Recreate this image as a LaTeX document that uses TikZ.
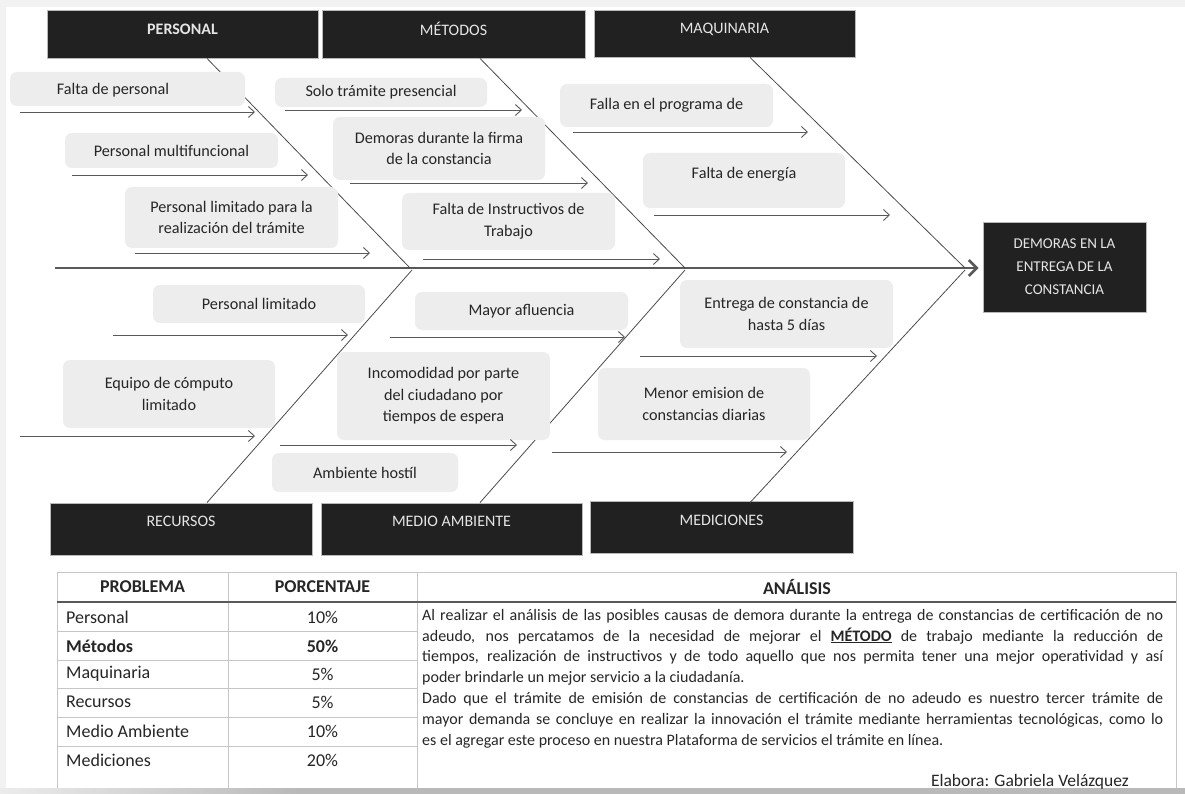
\documentclass[tikz,border=0pt]{standalone}
\usepackage{fontspec}
\setmainfont{Carlito}
\usetikzlibrary{arrows.meta,calc}
\begin{document}
\begin{tikzpicture}[x=1pt,y=-1pt,
 catbox/.style={fill=black!87, draw=gray!55, line width=0.8pt, inner sep=0pt},
 cattext/.style={text=white!90!black, font=\fontsize{16}{19}\selectfont, inner sep=0pt},
 cbox/.style={fill=gray!14, rounded corners=7pt, inner sep=2pt, align=center, text=black!85, font=\fontsize{16.2}{21.5}\selectfont},
 carrow/.style={draw=gray!70!black, line width=0.9pt, -{Straight Barb[length=6pt,width=11pt]}},
 bone/.style={draw=black!70, line width=0.8pt},
 spine/.style={draw=black!65, line width=2.6pt, -{Straight Barb[length=8pt,width=16pt]}},
 tline/.style={draw=gray!45, line width=0.6pt},
 ttext/.style={font=\fontsize{18}{20}\selectfont, text=black!85, inner sep=0pt},
 tbold/.style={ttext, font=\fontsize{18}{20}\selectfont\bfseries},
]
\useasboundingbox (0,0) rectangle (1185,794);
% page background
\fill[gray!10] (0,0) rectangle (1185,794);
\fill[white] (6,7) rectangle (1185,788);
\shade[left color=gray!15, right color=gray!55] (0,788) rectangle (300,794);
\fill[gray!55] (300,788) rectangle (1185,794);

% category boxes
\node[catbox, minimum width=271pt, minimum height=48pt] (pers) at (182.5,34) {};
\node[cattext, font=\fontsize{16}{19}\selectfont\bfseries] (persl) at (182.5,29) {PERSONAL};
\node[catbox, minimum width=263pt, minimum height=48pt] (meto) at (453.5,34) {};
\node[cattext] (metol) at (453.5,29) {MÉTODOS};
\node[catbox, minimum width=261pt, minimum height=47pt] (maqu) at (724.5,33.5) {};
\node[cattext] (maqul) at (724.5,29) {MAQUINARIA};
\node[catbox, minimum width=262pt, minimum height=52pt] (recu) at (181,529) {};
\node[cattext] (recul) at (181,521) {RECURSOS};
\node[catbox, minimum width=261pt, minimum height=52pt] (medi) at (451.5,529) {};
\node[cattext] (medil) at (451.5,521) {MEDIO AMBIENTE};
\node[catbox, minimum width=263pt, minimum height=52pt] (meds) at (721.5,527) {};
\node[cattext] (medsl) at (721.5,520) {MEDICIONES};

% effect
\node[catbox, minimum width=163pt, minimum height=90pt, text=white!90!black, align=center,
      font=\fontsize{15}{23}\selectfont] (eff) at (1064.5,267) {DEMORAS EN LA\\ENTREGA DE LA\\CONSTANCIA};

% spine
\coordinate (tail) at (55,268);
\draw[spine, shorten >=4pt] (tail) -- (tail -| eff.west);
\coordinate (j1) at (410,268);
\coordinate (j2) at (685,268);
\coordinate (j3) at (965,268);
\coordinate (k1) at (412,270);
\coordinate (k2) at (685,270);
\coordinate (k3) at (965,270);

% bones
\draw[bone] ($(pers.south)+(24.5,0)$) -- (j1);
\draw[bone] ($(meto.south)+(26.5,0)$) -- (j2);
\draw[bone] ($(maqu.south)+(25.5,0)$) -- (j3);
\draw[bone] ($(recu.north)+(26,0)$) -- (k1);
\draw[bone] ($(medi.north)+(28.5,0)$) -- (k2);
\draw[bone] ($(meds.north)+(28.5,2)$) -- (k3);

% cause boxes
\node[cbox, minimum width=235pt, minimum height=34pt] (c1) at (127.5,89) {};
\node[text=black!85, font=\fontsize{16.2}{21.5}\selectfont, inner sep=0pt] (t1) at (113,90) {Falta de personal};
\node[cbox, minimum width=213pt, minimum height=35pt] (c2) at (171.5,150.5) {Personal multifuncional};
\node[cbox, minimum width=213pt, minimum height=61pt] (c3) at (231.5,217.5) {Personal limitado para la\\realización del trámite};
\node[cbox, minimum width=212pt, minimum height=29pt] (c4) at (381,92.5) {Solo trámite presencial};
\node[cbox, minimum width=212pt, minimum height=63pt] (c5) at (439,148.5) {Demoras durante la firma\\de la constancia};
\node[cbox, minimum width=213pt, minimum height=57pt] (c6) at (508.5,221.5) {Falta de Instructivos de\\Trabajo};
\node[cbox, minimum width=213pt, minimum height=43pt] (c7) at (666.5,105.5) {Falla en el programa de};
\node[cbox, minimum width=202pt, minimum height=55pt, text depth=16pt] (c8) at (744,180.5) {Falta de energía};
\node[cbox, minimum width=212pt, minimum height=38pt] (c9) at (259,304) {Personal limitado};
\node[cbox, minimum width=212pt, minimum height=68pt] (c10) at (169,394) {Equipo de cómputo\\limitado};
\node[cbox, minimum width=213pt, minimum height=38pt] (c11) at (521.5,311) {Mayor afluencia};
\node[cbox, minimum width=213pt, minimum height=88pt] (c12) at (443.5,396) {Incomodidad por parte\\del ciudadano por\\tiempos de espera};
\node[cbox, minimum width=186pt, minimum height=39pt] (c13) at (365,472.5) {Ambiente hostíl};
\node[cbox, minimum width=213pt, minimum height=68pt] (c14) at (786.5,314) {Entrega de constancia de\\hasta 5 días};
\node[cbox, minimum width=212pt, minimum height=72pt] (c15) at (704,404) {Menor emision de\\constancias diarias};

% cause arrows
\newcommand{\causearrow}[4]{\coordinate (#1s) at (#2,#4); \coordinate (#1e) at (#3,#4); \draw[carrow] (#1s) -- (#1e);}
\causearrow{a1}{20}{255}{112}
\causearrow{a2}{72}{308}{175}
\causearrow{a3}{135}{370}{253}
\causearrow{a4}{285}{522}{110}
\causearrow{a5}{350}{588}{183}
\causearrow{a6}{423}{660}{259}
\causearrow{a7}{573}{808}{132}
\causearrow{a8}{654}{890}{215}
\causearrow{a9}{113}{348}{335}
\causearrow{a10}{20}{255}{436}
\causearrow{a11}{390}{625}{337}
\causearrow{a12}{280}{517}{445}
\causearrow{a14}{640}{877}{356}
\causearrow{a15}{552}{787}{452}

% table
\draw[tline] (57,572) -- (1176,572);
\draw[tline] (57,572) -- (57,788);
\draw[tline] (228,572) -- (228,788);
\draw[tline] (417,572) -- (417,788);
\draw[tline] (1176,572) -- (1176,788);
\draw[draw=black!65, line width=1.8pt] (57,602) -- (1176,602);
\foreach \yy in {631,660,688,717,746} {\draw[tline] (57,\yy) -- (417,\yy);}

\node[tbold] (hprob) at (142.5,587) {PROBLEMA};
\node[tbold] (hporc) at (322.5,587) {PORCENTAJE};
\node[tbold] (hanal) at (797,587) {ANÁLISIS};

\node[ttext, anchor=west] (r1) at (66,617) {Personal};
\node[tbold, anchor=west] (r2) at (66,646) {Métodos};
\node[ttext, anchor=west] (r3) at (66,674) {Maquinaria};
\node[ttext, anchor=west] (r4) at (66,702) {Recursos};
\node[ttext, anchor=west] (r5) at (66,731) {Medio Ambiente};
\node[ttext, anchor=west] (r6) at (66,760) {Mediciones};
\node[ttext] (p1) at (322.5,617) {10\%};
\node[tbold] (p2) at (322.5,646) {50\%};
\node[ttext] (p3) at (322.5,674) {5\%};
\node[ttext] (p4) at (322.5,702) {5\%};
\node[ttext] (p5) at (322.5,731) {10\%};
\node[ttext] (p6) at (322.5,760) {20\%};

\node[anchor=north west, inner sep=0pt, text width=741pt, align=justify, text=black!85,
      font=\fontsize{16}{20.8}\selectfont] (anal) at (422,605.5) {%
\parindent=0pt\parskip=0pt
\strut Al realizar el análisis de las posibles causas de demora durante la entrega de constancias de certificación de no\linebreak
adeudo, nos percatamos de la necesidad de mejorar el \textbf{\underline{MÉTODO}} de trabajo mediante la reducción de\linebreak
tiempos, realización de instructivos y de todo aquello que nos permita tener una mejor operatividad y así\linebreak
poder brindarle un mejor servicio a la ciudadanía.\par
Dado que el trámite de emisión de constancias de certificación de no adeudo es nuestro tercer trámite de\linebreak
mayor demanda se concluye en realizar la innovación el trámite mediante herramientas tecnológicas, como lo\linebreak
es el agregar este proceso en nuestra Plataforma de servicios el trámite en línea.};
\node[ttext, anchor=east, font=\fontsize{17.5}{20}\selectfont] (elab) at (1129,782) {Elabora: Gabriela Velázquez};
\end{tikzpicture}
\end{document}
